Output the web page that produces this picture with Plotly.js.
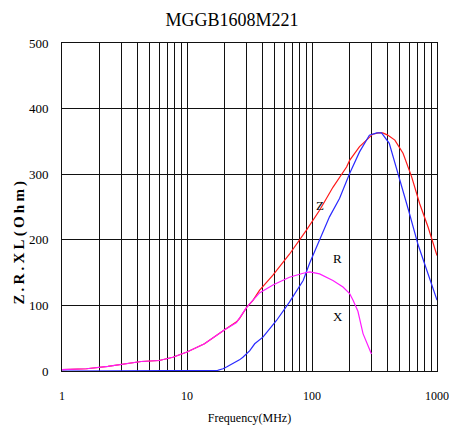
<!DOCTYPE html>
<html>
<head>
<meta charset="utf-8">
<script src="https://cdn.plot.ly/plotly-3.0.1.min.js"></script>
<style>
html,body{margin:0;padding:0;background:#fff;}
#chart{width:449px;height:425px;}
g.annotation[data-index="0"] text{letter-spacing:3.2px;}
</style>
</head>
<body>
<div id="chart"></div>
<script>
// ---- data ----
var chartTitle = 'MGGB1608M221';
var xTitle = 'Frequency(MHz)';
var yTitle = 'Z.R.XL(Ohm)';

// X (reactance) - magenta
var freqX = [1, 1.57, 2.33, 3.17, 4.3, 6, 7.7, 10, 13.8, 20, 24.9, 30, 38, 48.7, 66, 85, 96, 115, 147, 177, 200, 213, 233, 256, 280, 299];
var valX  = [2, 3.4, 7, 11, 14.5, 16, 21, 29, 41.5, 63, 74, 97, 119, 131, 143, 149, 151, 148, 138, 128, 118, 108, 91, 57, 40, 26];

// Z (impedance) - red
var freqZ = [1, 1.57, 2.33, 3.17, 4.3, 6, 7.7, 10, 13.8, 20, 24.9, 26.3, 30, 33.7, 38, 48.7, 66, 90, 115, 147, 166, 189, 200, 240, 256, 306, 340, 368, 400, 460, 535, 627, 727, 848, 1000];
var valZ  = [2, 3.4, 7, 11, 14.5, 16, 21, 29, 41.5, 63, 75, 80, 97, 107.6, 123, 146, 178, 214.5, 245, 280, 296, 311, 321, 342, 347, 361, 363, 363, 360, 352, 332, 296, 255, 219.5, 176];

// R (resistance) - blue
var freqR = [1, 12.6, 17.6, 19.4, 20.7, 26.3, 28, 31.8, 34.8, 40.5, 52, 66, 85, 95.5, 115, 138, 166, 200, 240, 288, 330, 360, 415, 490, 592, 707, 848, 1000];
var valR  = [0, 0, 1, 3.4, 6, 17, 21, 31, 41.5, 51.6, 77, 105, 138, 164, 199, 235, 263, 301, 334, 359.5, 363, 363, 347, 301, 245, 192, 148, 108];

// axis ticks
var xTickVals = [1,2,3,4,5,6,7,8,9,10,20,30,40,50,60,70,80,90,100,200,300,400,500,600,700,800,900,1000];
var xTickText = ['1','','','','','','','','','10','','','','','','','','','100','','','','','','','','','1000'];
var yTickVals = [0,100,200,300,400,500];
var yTickText = ['0','100','200','300','400','500'];

// curve labels
var labelText = ['Z','R','X'];
var labelFreq = [115, 161, 161];
var labelVal  = [253, 172, 83];

var serif = 'Liberation Serif';

var traces = [
  {x: freqZ, y: valZ, type: 'scatter', mode: 'lines', line: {color: '#ff1a1a', width: 1.2}, hoverinfo: 'skip'},
  {x: freqR, y: valR, type: 'scatter', mode: 'lines', line: {color: '#2a2aff', width: 1.2}, hoverinfo: 'skip'},
  {x: freqX, y: valX, type: 'scatter', mode: 'lines', line: {color: '#ff1aff', width: 1.2}, hoverinfo: 'skip'}
];

var annotations = [{
  text: yTitle, xref: 'paper', yref: 'paper', x: -0.115, y: 0.396,
  textangle: -90, showarrow: false, xanchor: 'center', yanchor: 'middle',
  font: {family: serif, size: 15, color: '#000', weight: 'bold'}
}];
for (var i = 0; i < labelText.length; i++) {
  annotations.push({
    text: labelText[i], x: Math.log10(labelFreq[i]), y: labelVal[i],
    xref: 'x', yref: 'y', showarrow: false,
    font: {family: serif, size: 13, color: '#000'}
  });
}

var layout = {
  width: 449, height: 425,
  font: {family: serif, color: '#000'},
  margin: {l: 62, r: 12, t: 43, b: 54, pad: 0},
  paper_bgcolor: '#fff', plot_bgcolor: '#fff',
  showlegend: false,
  title: {text: chartTitle, xref: 'container', x: 232/449, xanchor: 'center',
          yref: 'container', y: 1 - 20/425, yanchor: 'middle',
          font: {family: serif, size: 18, color: '#000'}},
  xaxis: {
    type: 'log', range: [0, 3],
    tickmode: 'array', tickvals: xTickVals, ticktext: xTickText,
    ticks: '', ticklabelstandoff: 14,
    showgrid: true, gridcolor: '#111', gridwidth: 1,
    showline: true, linecolor: '#111', linewidth: 1, mirror: true,
    zeroline: false, layer: 'below traces',
    tickfont: {family: serif, size: 12, color: '#000'},
    title: {text: xTitle, standoff: 12, font: {family: serif, size: 12, color: '#000'}}
  },
  yaxis: {
    range: [0, 500],
    tickmode: 'array', tickvals: yTickVals, ticktext: yTickText,
    ticks: '', ticklabelstandoff: 10,
    showgrid: true, gridcolor: '#111', gridwidth: 1,
    showline: true, linecolor: '#111', linewidth: 1, mirror: true,
    zeroline: false, layer: 'below traces',
    tickfont: {family: serif, size: 13, color: '#000'}
  },
  annotations: annotations
};

Plotly.newPlot('chart', traces, layout, {staticPlot: true, displayModeBar: false});
</script>
</body>
</html>
